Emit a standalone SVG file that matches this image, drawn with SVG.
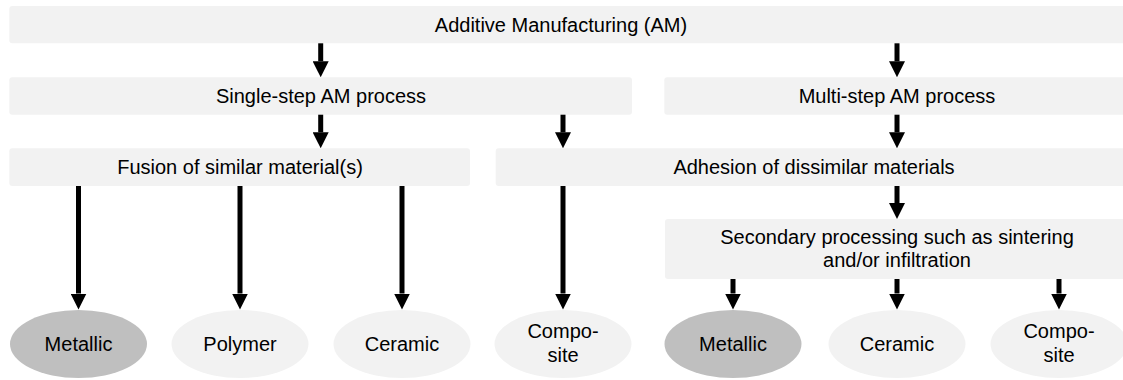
<svg xmlns="http://www.w3.org/2000/svg" width="1123" height="380" viewBox="0 0 1123 380">
  <style>
    .box { fill: #f2f2f2; }
    .light { fill: #f2f2f2; }
    .dark { fill: #bfbfbf; }
    text { font-family: "Liberation Sans", Arial, sans-serif; font-size: 20px; fill: #000; text-anchor: middle; }
    .arrow { stroke: #000; stroke-width: 5; fill: none; marker-end: url(#head); }
  </style>
  <defs>
    <marker id="head" viewBox="0 0 16 16" refX="0" refY="8" markerUnits="userSpaceOnUse" markerWidth="16" markerHeight="16" orient="auto">
      <path d="M0,0 L16,8 L0,16 Z" fill="#000"/>
    </marker>
  </defs>

  <!-- process boxes -->
  <g id="am">
    <rect class="box" x="9.3" y="6" width="1125" height="37.3" rx="3"/>
    <text x="561" y="32">Additive Manufacturing (AM)</text>
  </g>
  <g id="single-step">
    <rect class="box" x="9.3" y="77.3" width="622.7" height="37.4" rx="3"/>
    <text x="321" y="103">Single-step AM process</text>
  </g>
  <g id="multi-step">
    <rect class="box" x="664.3" y="77.3" width="470" height="37.4" rx="3"/>
    <text x="897" y="103">Multi-step AM process</text>
  </g>
  <g id="fusion">
    <rect class="box" x="9.3" y="148.3" width="460.7" height="37.7" rx="3"/>
    <text x="240" y="174">Fusion of similar material(s)</text>
  </g>
  <g id="adhesion">
    <rect class="box" x="495.7" y="148.3" width="640" height="37.7" rx="3"/>
    <text x="814" y="174">Adhesion of dissimilar materials</text>
  </g>
  <g id="secondary">
    <rect class="box" x="665" y="219" width="470" height="60" rx="3"/>
    <text x="897" y="244">Secondary processing such as sintering</text>
    <text x="897" y="267">and/or infiltration</text>
  </g>

  <!-- material classes -->
  <g id="metallic-1">
    <ellipse class="dark" cx="78.5" cy="344" rx="68.5" ry="34"/>
    <text x="78.5" y="351">Metallic</text>
  </g>
  <g id="polymer">
    <ellipse class="light" cx="240" cy="344" rx="68.5" ry="34"/>
    <text x="240" y="351">Polymer</text>
  </g>
  <g id="ceramic-1">
    <ellipse class="light" cx="402" cy="344" rx="68.5" ry="34"/>
    <text x="402" y="351">Ceramic</text>
  </g>
  <g id="composite-1">
    <ellipse class="light" cx="563" cy="344" rx="68.5" ry="34"/>
    <text x="563" y="338">Compo-</text>
    <text x="563" y="362">site</text>
  </g>
  <g id="metallic-2">
    <ellipse class="dark" cx="733" cy="344" rx="68.5" ry="34"/>
    <text x="733" y="351">Metallic</text>
  </g>
  <g id="ceramic-2">
    <ellipse class="light" cx="897" cy="344" rx="68.5" ry="34"/>
    <text x="897" y="351">Ceramic</text>
  </g>
  <g id="composite-2">
    <ellipse class="light" cx="1059" cy="344" rx="68.5" ry="34"/>
    <text x="1059" y="338">Compo-</text>
    <text x="1059" y="362">site</text>
  </g>

  <!-- connectors -->
  <g id="connectors">
    <line class="arrow" x1="320.7" y1="43.3" x2="320.7" y2="61.3"/>
    <line class="arrow" x1="897" y1="43.3" x2="897" y2="61.3"/>
    <line class="arrow" x1="320.7" y1="114.7" x2="320.7" y2="132.3"/>
    <line class="arrow" x1="563" y1="114.7" x2="563" y2="132.3"/>
    <line class="arrow" x1="897" y1="114.7" x2="897" y2="132.3"/>
    <line class="arrow" x1="78.5" y1="186" x2="78.5" y2="293.5"/>
    <line class="arrow" x1="240" y1="186" x2="240" y2="293.5"/>
    <line class="arrow" x1="402" y1="186" x2="402" y2="293.5"/>
    <line class="arrow" x1="563" y1="186" x2="563" y2="293.5"/>
    <line class="arrow" x1="897" y1="186" x2="897" y2="203"/>
    <line class="arrow" x1="733" y1="279" x2="733" y2="293.5"/>
    <line class="arrow" x1="897" y1="279" x2="897" y2="293.5"/>
    <line class="arrow" x1="1059" y1="279" x2="1059" y2="293.5"/>
  </g>
</svg>
